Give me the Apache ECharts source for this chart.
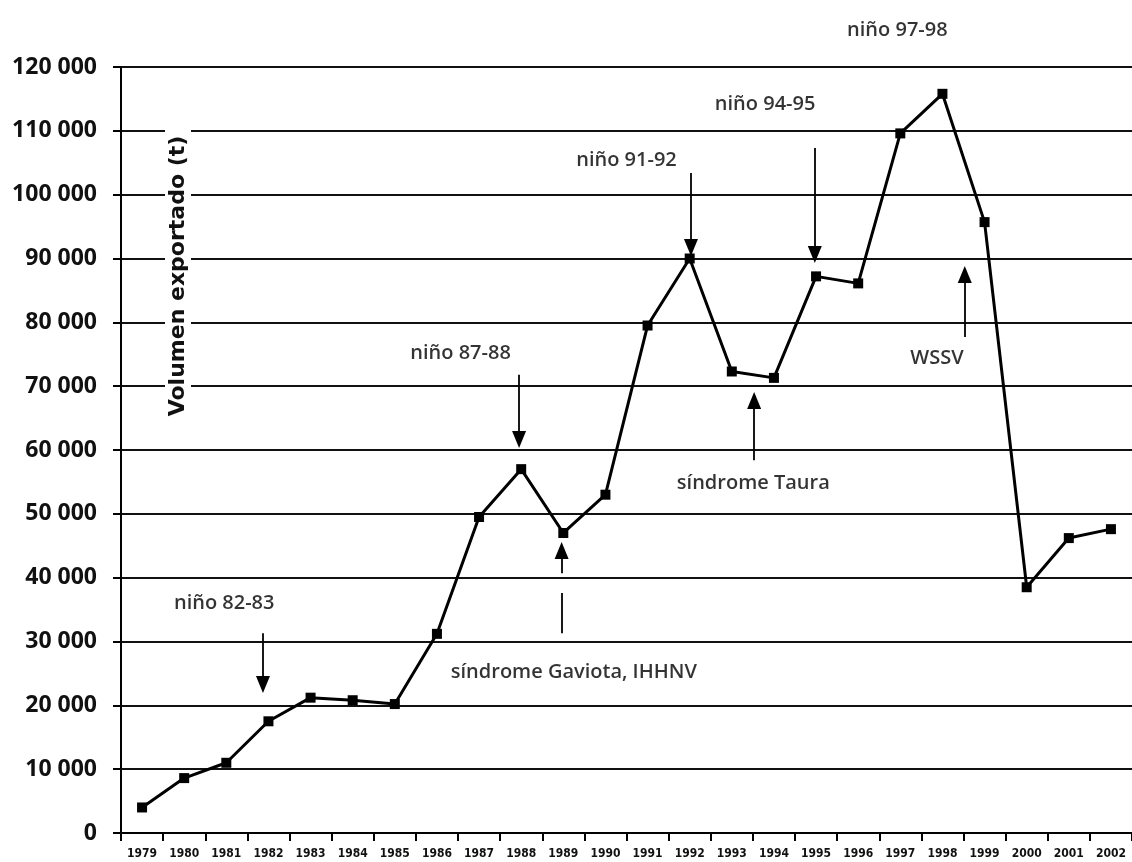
<!DOCTYPE html>
<html><head><meta charset="utf-8">
<script src="https://cdn.jsdelivr.net/npm/echarts@6/dist/echarts.min.js"></script>
<style>html,body{margin:0;padding:0;background:#fff}#c{width:1132px;height:862px}</style>
</head><body><div id="c"></div>
<script>
// ---- data ----
const years = ['1979','1980','1981','1982','1983','1984','1985','1986','1987','1988','1989','1990','1991','1992','1993','1994','1995','1996','1997','1998','1999','2000','2001','2002'];
const volumes = [4000, 8600, 11000, 17500, 21200, 20800, 20200, 31200, 49500, 57000, 47000, 53000, 79500, 90000, 72300, 71300, 87200, 86100, 109600, 115800, 95700, 38500, 46200, 47600];
const yMin = 0, yMax = 120000, yStep = 10000;

// annotations (x in category-index units, y in tonnes)
const noteTexts = ['niño 82-83', 'niño 87-88', 'síndrome Gaviota, IHHNV', 'niño 91-92', 'síndrome Taura', 'niño 94-95', 'niño 97-98', 'WSSV'];
const noteX = [1.95, 7.56, 10.25, 11.5, 14.51, 14.79, 17.93, 18.87];
const noteY = [36000, 75200, 25100, 105400, 54800, 114100, 125800, 74400];
// arrows: x, start of shaft, end of shaft (arrow head sits at the end)
const arrowX = [2.87, 8.95, 9.96, 13.03, 14.53, 15.97, 19.03, 19.53];
const arrowFrom = [31300, 71800, 40700, 103400, 58400, 107300, 123000, 77700];
const arrowEnd = [23260, 61640, 44260, 91720, 67760, 90630, 117570, 87500];
// plain shaft segment (no head) below the Gaviota arrow
const stubX = [9.96];
const stubFrom = [37600];
const stubTo = [31300];

const FONT = '"Open Sans", "DejaVu Sans", sans-serif';

const chart = echarts.init(document.getElementById('c'), null, {renderer: 'canvas'});

const arrowLines = arrowX.map((x, i) => [
  {coord: [x, arrowFrom[i]], symbol: 'none'},
  {coord: [x, arrowEnd[i]], symbol: 'triangle'}
]);
const stubLines = stubX.map((x, i) => [
  {coord: [x, stubFrom[i]], symbol: 'none'},
  {coord: [x, stubTo[i]], symbol: 'none'}
]);

chart.setOption({
  animation: false,
  backgroundColor: '#fff',
  grid: {left: 121, top: 67, width: 1019, height: 766, containLabel: false},
  xAxis: [{
    type: 'category',
    data: years,
    boundaryGap: true,
    axisLine: {show: true, onZero: false, lineStyle: {color: '#000', width: 2}},
    axisTick: {show: true, length: 8, lineStyle: {color: '#000', width: 2}},
    axisLabel: {color: '#111', fontSize: 12, fontWeight: 'bold', fontFamily: '"Liberation Sans Narrow", "DejaVu Sans Condensed", sans-serif', margin: 15, interval: 0},
    splitLine: {show: false}
  }, {
    type: 'value', min: -0.5, max: 23.5, show: false
  }],
  yAxis: {
    type: 'value', min: yMin, max: yMax, interval: yStep,
    axisLine: {show: true, onZero: false, lineStyle: {color: '#000', width: 2}},
    axisTick: {show: true, length: 8, lineStyle: {color: '#000', width: 2}},
    axisLabel: {
      color: '#111', fontSize: 23, fontWeight: 'bold', fontFamily: FONT, margin: 24,
      formatter: v => String(v).replace(/\B(?=(\d{3})+(?!\d))/g, ' ')
    },
    splitLine: {show: true, lineStyle: {color: '#111', width: 1.8}}
  },
  graphic: [{
    type: 'text', x: 178, y: 276, rotation: Math.PI / 2, z: 50,
    style: {
      text: 'Volumen exportado (t)',
      font: 'bold 22px "DejaVu Sans", sans-serif',
      fill: '#111', align: 'center', verticalAlign: 'middle',
      backgroundColor: '#fff', padding: [2, 6]
    }
  }],
  series: [{
    type: 'line',
    data: volumes,
    symbol: 'rect', symbolSize: 10,
    lineStyle: {color: '#000', width: 3},
    itemStyle: {color: '#000'},
    z: 5, silent: true
  }, {
    type: 'scatter',
    xAxisIndex: 1,
    data: noteTexts.map((t, i) => [noteX[i], noteY[i], t]),
    symbolSize: 1,
    itemStyle: {color: 'rgba(0,0,0,0)'},
    clip: false, silent: true, z: 6,
    label: {
      show: true, position: 'inside', formatter: p => p.value[2],
      color: '#000', fontSize: 20, fontFamily: FONT, fontWeight: 600
    },
    markLine: {
      silent: true, animation: false,
      symbolSize: [14, 17],
      label: {show: false},
      lineStyle: {color: '#000', width: 1.8, type: 'solid'},
      itemStyle: {color: '#000'},
      emphasis: {disabled: true},
      data: arrowLines.concat(stubLines)
    }
  }]
});
</script>
</body></html>
